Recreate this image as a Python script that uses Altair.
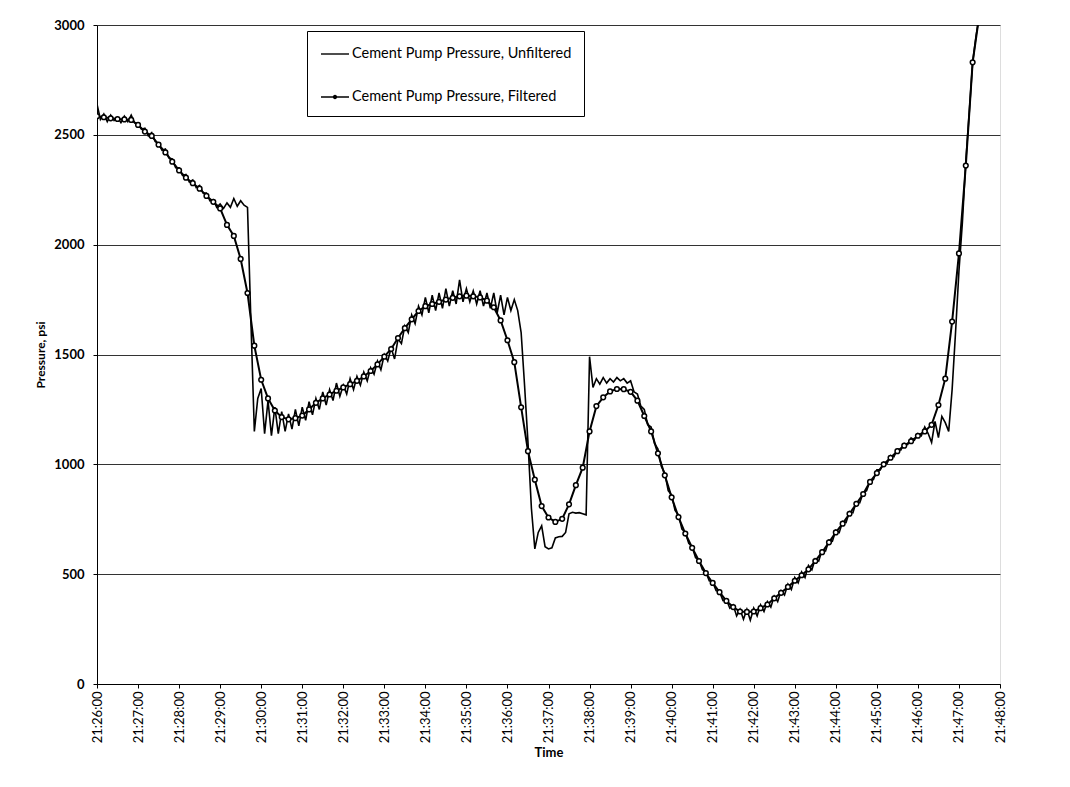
import altair as alt
import pandas as pd

# ---------------- data ----------------
SER_U = "Cement Pump Pressure, Unfiltered"
SER_F = "Cement Pump Pressure, Filtered"

# seconds after 21:26:00
unf_step = 5
unfiltered_psi = [
    2640, 2570, 2595, 2560, 2590, 2565, 2580, 2555, 2585, 2560, 2590, 2555,
    2550, 2525, 2530, 2495, 2510, 2470, 2460, 2430, 2435, 2395, 2390, 2350,
    2350, 2315, 2320, 2285, 2295, 2260, 2270, 2235, 2235, 2200, 2205, 2170,
    2185, 2165, 2190, 2170, 2210, 2175, 2200, 2180, 2170, 1650, 1150, 1300,
    1345, 1140, 1290, 1130, 1260, 1140, 1240, 1150, 1230, 1160, 1250, 1175,
    1260, 1200, 1285, 1225, 1300, 1250, 1330, 1270, 1340, 1290, 1370, 1310,
    1360, 1320, 1390, 1340, 1400, 1360, 1420, 1380, 1440, 1410, 1470, 1430,
    1500, 1470, 1530, 1480, 1570, 1550, 1630, 1600, 1680, 1640, 1720, 1680,
    1760, 1690, 1770, 1700, 1780, 1710, 1800, 1720, 1790, 1730, 1840, 1740,
    1800, 1740, 1790, 1730, 1790, 1720, 1780, 1710, 1780, 1690, 1770, 1680,
    1760, 1700, 1750, 1700, 1600, 1360, 1100, 800, 615, 690, 720, 625,
    615, 620, 665, 670, 672, 690, 775, 782, 778, 780, 775, 770,
    1490, 1350, 1390, 1365, 1395, 1370, 1390, 1375, 1395, 1380, 1390, 1370,
    1380, 1330, 1320, 1265, 1250, 1180, 1170, 1095, 1070, 990, 960, 880,
    860, 790, 770, 705, 690, 640, 625, 575, 565, 520, 510, 470,
    465, 425, 420, 380, 385, 345, 360, 310, 340, 295, 340, 290,
    345, 310, 360, 330, 375, 350, 400, 375, 425, 405, 455, 430,
    485, 460, 510, 485, 540, 520, 570, 560, 610, 605, 655, 650,
    700, 690, 740, 735, 785, 780, 830, 825, 870, 880, 925, 930,
    975, 975, 1010, 1005, 1040, 1035, 1070, 1065, 1095, 1090, 1120, 1110,
    1140, 1130, 1170, 1140, 1100, 1195, 1122, 1218, 1190, 1150, 1340, 1600,
    1880, 2100, 2380, 2600, 2830, 2950, 3050,
]

filt_step = 10
filtered_psi = [
    2585, 2580, 2575, 2572, 2570, 2568, 2545, 2515, 2495, 2455,
    2420, 2378, 2338, 2305, 2280, 2255, 2222, 2195, 2165, 2090,
    2040, 1935, 1780, 1540, 1385, 1300, 1245, 1215, 1205, 1210,
    1222, 1250, 1280, 1300, 1318, 1335, 1350, 1365, 1380, 1400,
    1425, 1455, 1490, 1525, 1575, 1620, 1660, 1698, 1720, 1730,
    1740, 1750, 1758, 1765, 1768, 1765, 1760, 1745, 1715, 1655,
    1565, 1465, 1260, 1060, 930, 810, 758, 738, 752, 818,
    905, 985, 1150, 1265, 1305, 1332, 1343, 1342, 1330, 1290,
    1220, 1150, 1050, 950, 850, 760, 685, 620, 560, 505,
    460, 418, 378, 350, 330, 328, 330, 345, 362, 390,
    415, 442, 470, 495, 522, 560, 600, 645, 690, 730,
    775, 820, 865, 920, 960, 1000, 1030, 1060, 1085, 1105,
    1130, 1150, 1180, 1270, 1390, 1650, 1960, 2360, 2830, 3050,
]

tick_labels = [
    "21:26:00", "21:27:00", "21:28:00", "21:29:00", "21:30:00", "21:31:00",
    "21:32:00", "21:33:00", "21:34:00", "21:35:00", "21:36:00", "21:37:00",
    "21:38:00", "21:39:00", "21:40:00", "21:41:00", "21:42:00", "21:43:00",
    "21:44:00", "21:45:00", "21:46:00", "21:47:00", "21:48:00",
]
y_ticks = [0, 500, 1000, 1500, 2000, 2500, 3000]

# ---------------- tables ----------------
unf = pd.DataFrame({
    "t": [i * unf_step for i in range(len(unfiltered_psi))],
    "psi": unfiltered_psi,
})
filt = pd.DataFrame({
    "t": [i * filt_step for i in range(len(filtered_psi))],
    "psi": filtered_psi,
})
legend_df = pd.DataFrame({"t": [0, 0], "psi": [0, 0], "series": [SER_U, SER_F]})

FONT = "Lato"
x_values = [60 * i for i in range(len(tick_labels))]
label_expr = "[" + ",".join("'%s'" % s for s in tick_labels) + "][round(datum.value/60)]"

x_enc = alt.X(
    "t:Q",
    scale=alt.Scale(domain=[0, x_values[-1]], nice=False, zero=False),
    axis=alt.Axis(
        values=x_values, labelExpr=label_expr, labelAngle=-90, title="Time",
        grid=False, tickSize=4, labelPadding=3, labelFont=FONT, labelFontSize=13,
        labelColor="black", titleFont=FONT, titleFontSize=13, titleFontWeight="bold",
        titleColor="black", titlePadding=4, domainColor="black", tickColor="black",
        labelOverlap=False, labelFlush=False,
    ),
)
y_enc = alt.Y(
    "psi:Q",
    scale=alt.Scale(domain=[0, 3000], nice=False),
    axis=alt.Axis(
        values=y_ticks, format="d", title="Pressure, psi", grid=True, gridColor="#333333",
        gridWidth=1, tickSize=4, labelPadding=9, labelFont=FONT, labelFontSize=13,
        labelFontWeight="bold", labelColor="black", titleFont=FONT, titleFontSize=12,
        titleFontWeight="bold", titleColor="black", titlePadding=6,
        domainColor="black", tickColor="black",
    ),
)

line_u = alt.Chart(unf).mark_line(color="black", strokeWidth=1.6, clip=True).encode(x=x_enc, y=y_enc)
line_f = alt.Chart(filt).mark_line(color="black", strokeWidth=2.0, clip=True).encode(x=x_enc, y=y_enc)
pts_f = alt.Chart(filt).mark_point(
    shape="circle", size=22, filled=True, fill="white", stroke="black",
    strokeWidth=1.5, opacity=1, clip=True,
).encode(x=x_enc, y=y_enc)

# legend glyphs as filled paths: a thin bar, and a thin bar with a dot
bar = "M-1.4,-0.07H1.4V0.07H-1.4Z"
dot = "M0.22,0A0.22,0.22,0,1,1,-0.22,0A0.22,0.22,0,1,1,0.22,0Z"
path_u = bar
path_f = bar + dot

legend_layer = alt.Chart(legend_df).transform_filter("datum.psi > 100000").mark_point(
    filled=True, color="black", opacity=1,
).encode(
    x=x_enc, y=y_enc,
    shape=alt.Shape(
        "series:N",
        scale=alt.Scale(domain=[SER_U, SER_F], range=[path_u, path_f]),
        legend=alt.Legend(
            title=None, orient="none", legendX=210, legendY=6, direction="vertical",
            strokeColor="black", fillColor="white", padding=12, rowPadding=25,
            symbolSize=400, symbolOffset=5, labelOffset=6, symbolFillColor="black",
            symbolOpacity=1, labelLimit=0,
            labelFont=FONT, labelFontSize=14.5, labelColor="black",
        ),
    ),
)

chart = alt.layer(line_u, line_f, pts_f, legend_layer).properties(
    width=903, height=659,
    autosize=alt.AutoSizeParams(type="none"),
    padding={"left": 89, "top": 17, "right": 55, "bottom": 88},
).configure_view(
    stroke="black", strokeWidth=1,
).configure_legend(
    strokeWidth=2,
).configure(background="white")

chart.save("out.html", embed_options={"renderer": "svg", "actions": False})
